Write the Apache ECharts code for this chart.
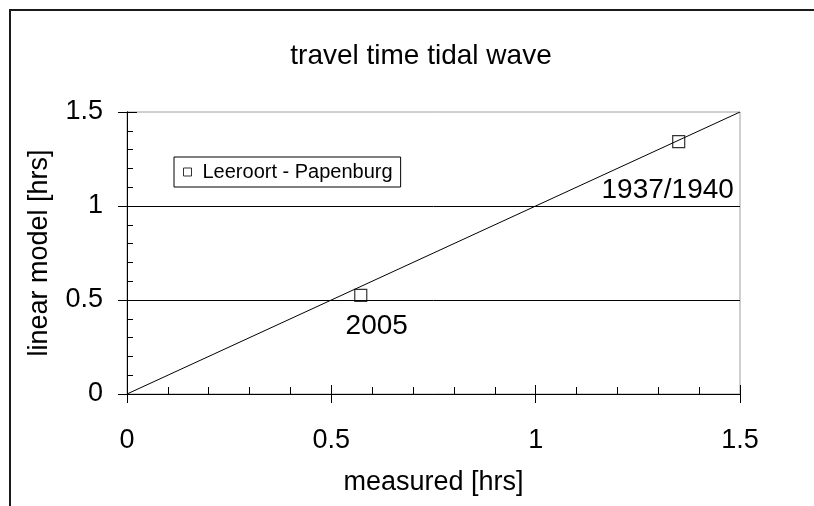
<!DOCTYPE html>
<html>
<head>
<meta charset="utf-8">
<script src="https://cdn.jsdelivr.net/npm/echarts@6/dist/echarts.min.js"></script>
<style>
  html, body { margin: 0; padding: 0; background: #fff; }
  #chart { width: 814px; height: 506px; }
</style>
</head>
<body>
<div id="chart"></div>
<script>
// Travel time of the tidal wave: linear model vs. measured
const seriesName = 'Leeroort - Papenburg';
const periodLabels = ['2005', '1937/1940'];
const measuredHrs = [0.572, 1.35];
const modelHrs = [0.525, 1.342];
const parityLine = [[0, 0], [1.5, 1.5]];
const axisMin = 0, axisMax = 1.5;

const FONT = '"Liberation Sans", Arial, sans-serif';

const points = periodLabels.map((name, i) => ({ name, value: [measuredHrs[i], modelHrs[i]] }));
const labelOffsets = [[16, 31], [-11, 49]];

const chart = echarts.init(document.getElementById('chart'), null, { renderer: 'canvas' });

// inner axis: major ticks (inward) + minor ticks every 0.1
function innerAxis(pos, majorLen, minorLen) {
  return {
    type: 'value', min: axisMin, max: axisMax, interval: 0.5, position: pos,
    axisLine: { show: true, lineStyle: { color: '#000', width: 1 } },
    axisTick: { show: true, inside: true, length: majorLen, lineStyle: { color: '#000' } },
    minorTick: { show: true, splitNumber: 5, length: minorLen, lineStyle: { color: '#000' } },
    axisLabel: { show: false },
    splitLine: { show: false }
  };
}

chart.setOption({
  backgroundColor: '#fff',
  animation: false,
  textStyle: { fontFamily: FONT, color: '#000' },
  title: {
    text: 'travel time tidal wave',
    left: 416,
    top: 37,
    textAlign: 'center',
    textStyle: { fontFamily: FONT, fontSize: 28, fontWeight: 'normal', color: '#000' }
  },
  legend: {
    left: 174,
    top: 157,
    orient: 'vertical',
    data: [{ name: seriesName, icon: 'rect' }],
    itemWidth: 8,
    itemHeight: 8,
    itemGap: 0,
    padding: [5, 8, 5, 9],
    borderColor: '#000',
    borderWidth: 1,
    backgroundColor: '#fff',
    textStyle: { fontFamily: FONT, fontSize: 20, color: '#000', padding: [0, 0, 0, 6] },
    itemStyle: { color: '#fff', borderColor: '#000', borderWidth: 1 }
  },
  grid: {
    left: 127, top: 112, width: 613, height: 282,
    show: true,
    borderColor: '#a0a0a0',
    borderWidth: 1,
    backgroundColor: 'transparent'
  },
  xAxis: [
    innerAxis('bottom', 9, 7),
    {
      // outward major ticks with labels
      type: 'value', min: axisMin, max: axisMax, interval: 0.5, position: 'bottom',
      name: 'measured [hrs]', nameLocation: 'middle', nameGap: 75,
      nameTextStyle: { fontFamily: FONT, fontSize: 27, color: '#000' },
      axisLine: { show: true, lineStyle: { color: '#000', width: 1 } },
      axisTick: { show: true, inside: false, length: 9, lineStyle: { color: '#000' } },
      axisLabel: { show: true, margin: 33, fontFamily: FONT, fontSize: 27, color: '#000' },
      splitLine: { show: false }
    }
  ],
  yAxis: [
    innerAxis('left', 10, 6),
    {
      type: 'value', min: axisMin, max: axisMax, interval: 0.5, position: 'left',
      name: 'linear model [hrs]', nameLocation: 'middle', nameGap: 74,
      nameTextStyle: { fontFamily: FONT, fontSize: 27, color: '#000' },
      axisLine: { show: true, lineStyle: { color: '#000', width: 1 } },
      axisTick: { show: true, inside: false, length: 9, lineStyle: { color: '#000' } },
      axisLabel: { show: true, margin: 24, fontFamily: FONT, fontSize: 27, color: '#000' },
      splitLine: {
        show: true, showMinLine: false, showMaxLine: false,
        lineStyle: { color: '#000', width: 1 }
      }
    }
  ],
  series: [
    {
      type: 'line',
      data: parityLine,
      xAxisIndex: 0, yAxisIndex: 0,
      showSymbol: false,
      symbol: 'none',
      lineStyle: { color: '#000', width: 1 },
      silent: true,
      legendHoverLink: false,
      z: 3
    },
    {
      name: seriesName,
      type: 'scatter',
      xAxisIndex: 0, yAxisIndex: 0,
      symbol: 'rect',
      symbolSize: 12,
      itemStyle: { color: 'rgba(0,0,0,0)', borderColor: '#000', borderWidth: 1.2 },
      data: points.map((p, i) => ({
        name: p.name,
        value: p.value,
        label: { offset: labelOffsets[i] }
      })),
      label: {
        show: true,
        position: 'inside',
        formatter: '{b}',
        fontFamily: FONT,
        fontSize: 28,
        color: '#000',
        textBorderWidth: 0,
        opacity: 1
      },
      z: 4
    }
  ],
  graphic: [
    {
      type: 'polyline',
      shape: { points: [[10, 506], [10, 10], [814, 10]] },
      style: { stroke: '#1a1a1a', lineWidth: 2, fill: null },
      silent: true
    }
  ]
});
</script>
</body>
</html>
